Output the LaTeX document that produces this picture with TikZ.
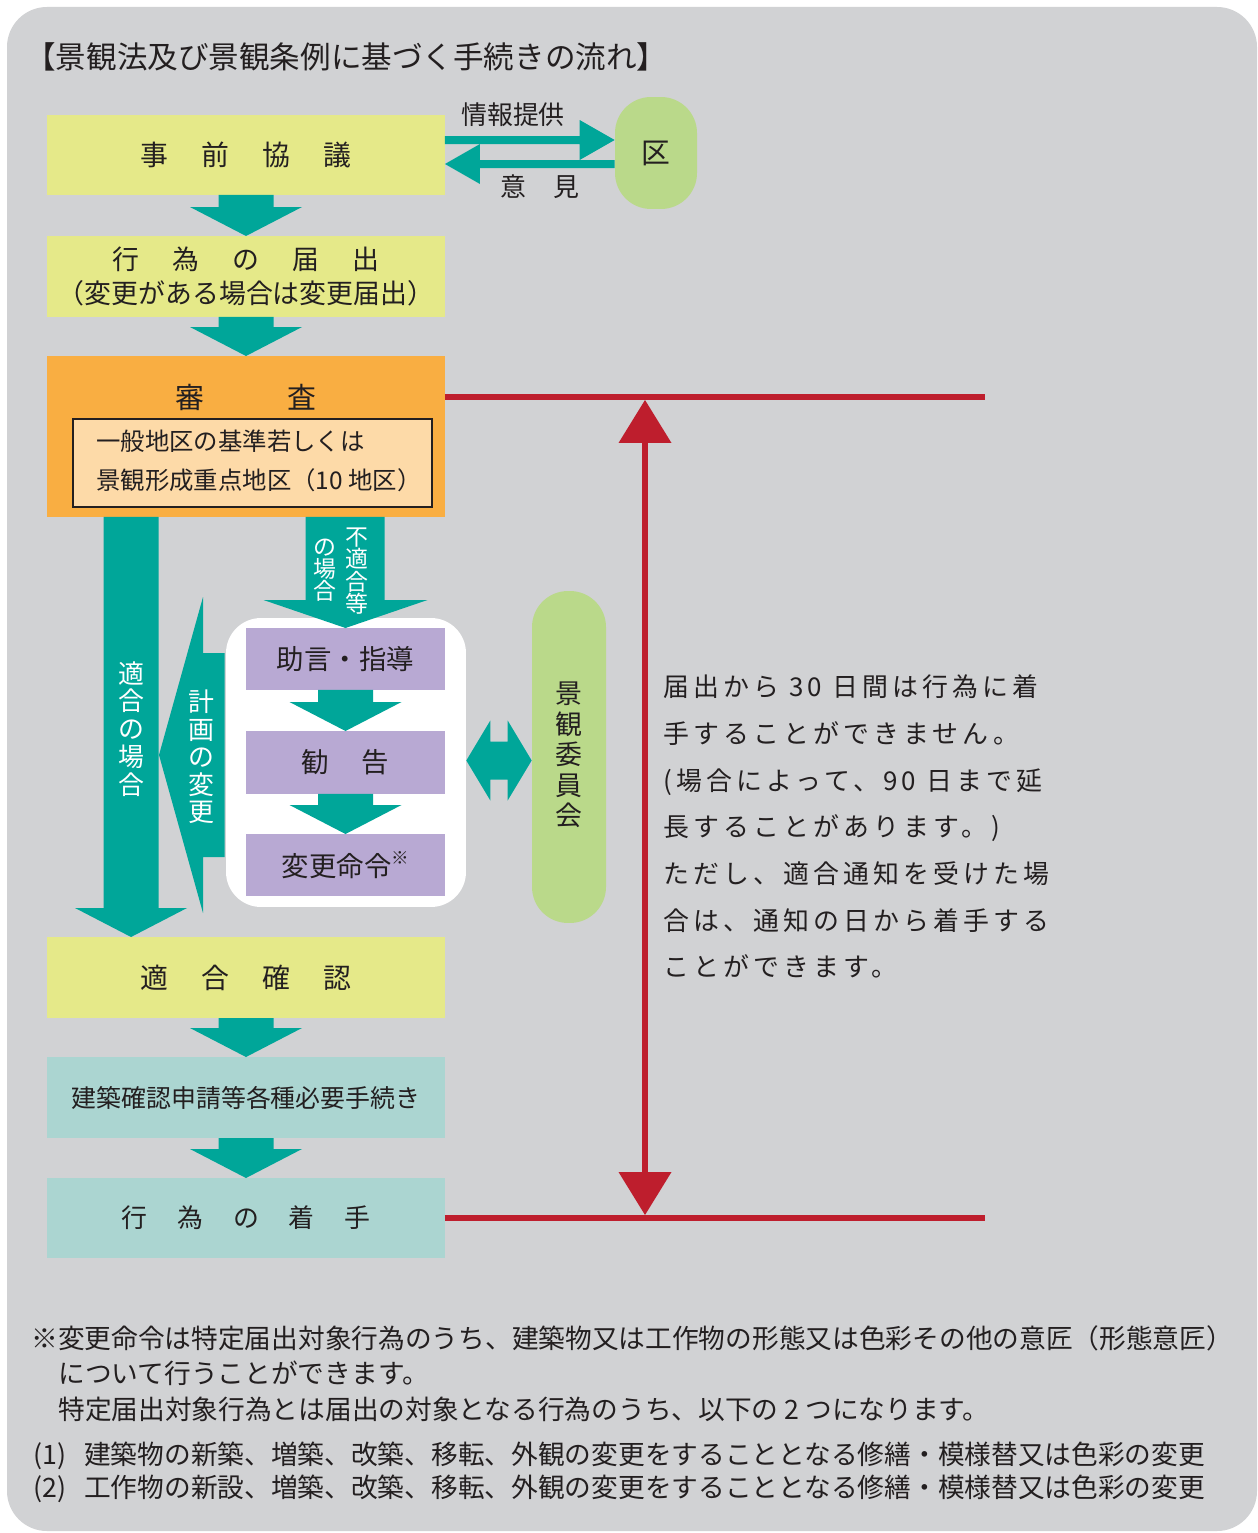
\documentclass[tikz,border=0pt]{standalone}
\usepackage{fontspec}
\setmainfont{Noto Sans CJK JP}
\newfontfamily\jpls[LetterSpace=16]{Noto Sans CJK JP}
\usetikzlibrary{calc}
\definecolor{bgc}{RGB}{209,210,212}
\definecolor{txt}{RGB}{35,31,32}
\definecolor{yel}{RGB}{229,233,137}
\definecolor{tealc}{RGB}{0,166,153}
\definecolor{grn}{RGB}{186,217,138}
\definecolor{org}{RGB}{249,174,66}
\definecolor{peach}{RGB}{253,218,168}
\definecolor{purp}{RGB}{184,169,211}
\definecolor{ltl}{RGB}{171,213,209}
\definecolor{redc}{RGB}{190,30,45}
\newcommand\fz[2]{\fontsize{#1}{#2}\selectfont}
\newcommand\flowarr[2]{%
  \fill[tealc] ($(#1)+(-27.5,0)$) -- ($(#1)+(27.5,0)$) -- ($(#2)+(27.5,-29)$) -- ($(#2)+(56,-29)$) -- (#2) -- ($(#2)+(-56,-29)$) -- ($(#2)+(-27.5,-29)$) -- cycle;}
\tikzset{
  box/.style={inner sep=0pt, outer sep=0pt, minimum width=7.96cm, minimum height=1.62cm, align=center, text=txt},
  ybox/.style={box, fill=yel},
  tbox/.style={box, fill=ltl},
  pbox/.style={inner sep=0pt, outer sep=0pt, minimum width=3.98cm, minimum height=1.24cm, fill=purp, text=txt, font=\fz{15.6pt}{16pt}},
  vtext/.style={inner sep=0pt, align=center, text=white},
  redl/.style={draw=redc, line width=0.12cm},
  tline/.style={anchor=base west, inner sep=0pt, text=txt, font=\jpls\fz{14.74pt}{16pt}},
  note/.style={anchor=base west, inner sep=0pt, text=txt, font=\fz{15.2pt}{16pt}},
  plain/.style={inner sep=0pt, text=txt}
}
\begin{document}
\begin{tikzpicture}[x=0.02cm,y=-0.02cm]
\useasboundingbox (0,0) rectangle (1257,1533);
\fill[white] (0,0) rectangle (1257,1533);
\fill[bgc, rounded corners=0.8cm] (7,7) rectangle (1257,1531);

% title
\node[plain, anchor=west, font=\fz{17.4pt}{18pt}] (title) at (25,57) {【景観法及び景観条例に基づく手続きの流れ】};

% main boxes
\node[ybox, minimum height=1.6cm, font=\fz{15.87pt}{16pt}] (jizen) at (246,155) {事\hspace{0.66cm}前\hspace{0.66cm}協\hspace{0.66cm}議};
\node[ybox, font=\fz{15.31pt}{19.84pt}] (todoke) at (246,276.5) {行\hspace{0.66cm}為\hspace{0.66cm}の\hspace{0.66cm}届\hspace{0.66cm}出\\（変更がある場合は変更届出）};
\node[box, fill=org, minimum height=3.22cm] (shinsa) at (246,436.5) {};
\node[plain, font=\fz{16.44pt}{17pt}] (shinsaT) at (246,397) {審\hspace{1.66cm}査};
\node[draw=txt, line width=1.1pt, fill=peach, minimum width=7.18cm, minimum height=1.76cm, inner sep=0pt] (kijun) at (252.5,463) {};
\node[plain, anchor=base west, font=\fz{13.89pt}{14pt}] (kj1) at (96,451) {一般地区の基準若しくは};
\node[plain, anchor=base west, font=\fz{13.89pt}{14pt}] (kj2) at (96,489) {景観形成重点地区（10 地区）};
\node[ybox, font=\fz{15.87pt}{16pt}] (kakunin) at (246,977.5) {適\hspace{0.66cm}合\hspace{0.66cm}確\hspace{0.66cm}認};
\node[tbox, font=\fz{14.17pt}{15pt}] (kenchiku) at (246,1097.5) {建築確認申請等各種必要手続き};
\node[tbox, minimum height=1.6cm, font=\fz{14.74pt}{15pt}] (chakushu) at (246,1218) {行\hspace{0.6cm}為\hspace{0.6cm}の\hspace{0.6cm}着\hspace{0.6cm}手};

% 区
\node[fill=grn, rounded corners=0.72cm, minimum width=1.64cm, minimum height=2.24cm, inner sep=0pt, text=txt, font=\fz{16.4pt}{17pt}] (ku) at (656,153) {区};
\node[plain, font=\fz{14.74pt}{15pt}] (joho) at (513,115) {情報提供};
\node[plain, font=\fz{14.74pt}{15pt}] (iken) at (540,187) {意\hspace{0.54cm}見};
\coordinate (r1) at ($(jizen.north east)+(0,25)$);
\coordinate (r2) at (ku.west |- r1);
\fill[tealc] ($(r1)+(0,-4)$) -- ($(r2)+(-35,-4)$) -- ($(r2)+(-35,-20)$) -- (r2) -- ($(r2)+(-35,20)$) -- ($(r2)+(-35,4)$) -- ($(r1)+(0,4)$) -- cycle;
\coordinate (l1) at ($(jizen.north east)+(0,49)$);
\coordinate (l2) at (ku.west |- l1);
\fill[tealc] (l1) -- ($(l1)+(35,-20)$) -- ($(l1)+(35,-4)$) -- ($(l2)+(0,-4)$) -- ($(l2)+(0,4)$) -- ($(l1)+(35,4)$) -- ($(l1)+(35,20)$) -- cycle;

% flow arrows
\flowarr{jizen.south}{todoke.north}
\flowarr{todoke.south}{shinsa.north}
\flowarr{kakunin.south}{kenchiku.north}
\flowarr{kenchiku.south}{chakushu.north}

% white group box and purple boxes
\node[fill=white, rounded corners=0.7cm, minimum width=4.8cm, minimum height=5.78cm, inner sep=0pt] (wbox) at (346,762.5) {};
\node[pbox] (jogen) at (345.5,659) {助言・指導};
\node[pbox, minimum height=1.26cm] (kankoku) at (345.5,762.5) {勧\hspace{0.66cm}告};
\node[pbox] (meirei) at (345.5,865) {変更命令\raisebox{0.42em}{\fz{10pt}{10pt}※}};
\flowarr{jogen.south}{kankoku.north}
\flowarr{kankoku.south}{meirei.north}

% 適合の場合 arrow
\coordinate (ta) at ($(shinsa.south west)+(84,0)$);
\coordinate (tb) at ($(kakunin.north west)+(84,0)$);
\flowarr{ta}{tb}
\node[vtext, font=\fz{14.74pt}{15.87pt}] (tekiT) at (131,729) {適\\合\\の\\場\\合};

% 計画の変更 arrow
\coordinate (kL) at (159,755);
\coordinate (kR) at ($(wbox.west)+(-1,-7.5)$);
\fill[tealc] (kL) -- ($(kL)+(44,-158)$) -- ($(kL)+(44,-102)$) -- ($(kR)+(0,-102)$) -- ($(kR)+(0,102)$) -- ($(kL)+(44,102)$) -- ($(kL)+(44,158)$) -- cycle;
\node[vtext, font=\fz{14.74pt}{15.6pt}] (keikakuT) at (201,757) {計\\画\\の\\変\\更};

% 不適合等の場合 arrow
\coordinate (fa) at (jogen.north |- shinsa.south);
\fill[tealc] ($(fa)+(-40,0)$) -- ($(fa)+(39,0)$) -- ($(jogen.north)+(39,-28)$) -- ($(jogen.north)+(82,-28)$) -- (jogen.north) -- ($(jogen.north)+(-82,-28)$) -- ($(jogen.north)+(-40,-28)$) -- cycle;
\node[vtext, font=\fz{13.04pt}{12.76pt}] (fuT1) at (357,571) {不\\適\\合\\等};
\node[vtext, font=\fz{13.04pt}{12.5pt}] (fuT2) at (325,570) {の\\場\\合};

% 景観委員会
\node[fill=grn, rounded corners=0.72cm, minimum width=1.48cm, minimum height=6.64cm, inner sep=0pt] (iinkai) at (569,757) {};
\node[plain, align=center, font=\fz{15.31pt}{17.4pt}] (iinkaiT) at (569,755) {景\\観\\委\\員\\会};
\coordinate (da) at ($(wbox.east)+(0,-2)$);
\coordinate (db) at (iinkai.west |- da);
\fill[tealc] (da) -- ($(da)+(24,-40)$) -- ($(da)+(24,-19)$) -- ($(db)+(-24,-19)$) -- ($(db)+(-24,-40)$) -- (db) -- ($(db)+(-24,40)$) -- ($(db)+(-24,19)$) -- ($(da)+(24,19)$) -- ($(da)+(24,40)$) -- cycle;

% red period lines
\coordinate (rt1) at (shinsa.east |- shinsaT);
\coordinate (rt2) at (985,397);
\coordinate (rb1) at (chakushu.east);
\coordinate (rb2) at (985,1218);
\draw[redl] (rt1) -- (rt2);
\draw[redl] (rb1) -- (rb2);
\coordinate (vt) at (645,397);
\coordinate (vb) at (645,1218);
\draw[redl] ($(vt)+(0,40)$) -- ($(vb)+(0,-40)$);
\fill[redc] ($(vt)+(0,3)$) -- ($(vt)+(26.5,46)$) -- ($(vt)+(-26.5,46)$) -- cycle;
\fill[redc] ($(vb)+(0,-3)$) -- ($(vb)+(26.5,-46)$) -- ($(vb)+(-26.5,-46)$) -- cycle;

% right explanation
\node[tline] (e1) at (663,696) {届出から 30 日間は行為に着};
\node[tline] (e2) at (663,743) {手することができません。};
\node[tline] (e3) at (663,790) {(場合によって、90 日まで延};
\node[tline] (e4) at (663,836) {長することがあります。)};
\node[tline] (e5) at (663,883) {ただし、適合通知を受けた場};
\node[tline] (e6) at (663,930) {合は、通知の日から着手する};
\node[tline] (e7) at (663,976) {ことができます。};

% notes
\node[note] (n1) at (31,1348) {※変更命令は特定届出対象行為のうち、建築物又は工作物の形態又は色彩その他の意匠（形態意匠）};
\node[note] (n2) at (58,1383) {について行うことができます。};
\node[note] (n3) at (58,1419) {特定届出対象行為とは届出の対象となる行為のうち、以下の 2 つになります。};
\node[note] (n4) at (33,1464) {(1)\hspace{0.36cm}建築物の新築、増築、改築、移転、外観の変更をすることとなる修繕・模様替又は色彩の変更};
\node[note] (n5) at (33,1497) {(2)\hspace{0.36cm}工作物の新設、増築、改築、移転、外観の変更をすることとなる修繕・模様替又は色彩の変更};
\end{tikzpicture}
\end{document}
